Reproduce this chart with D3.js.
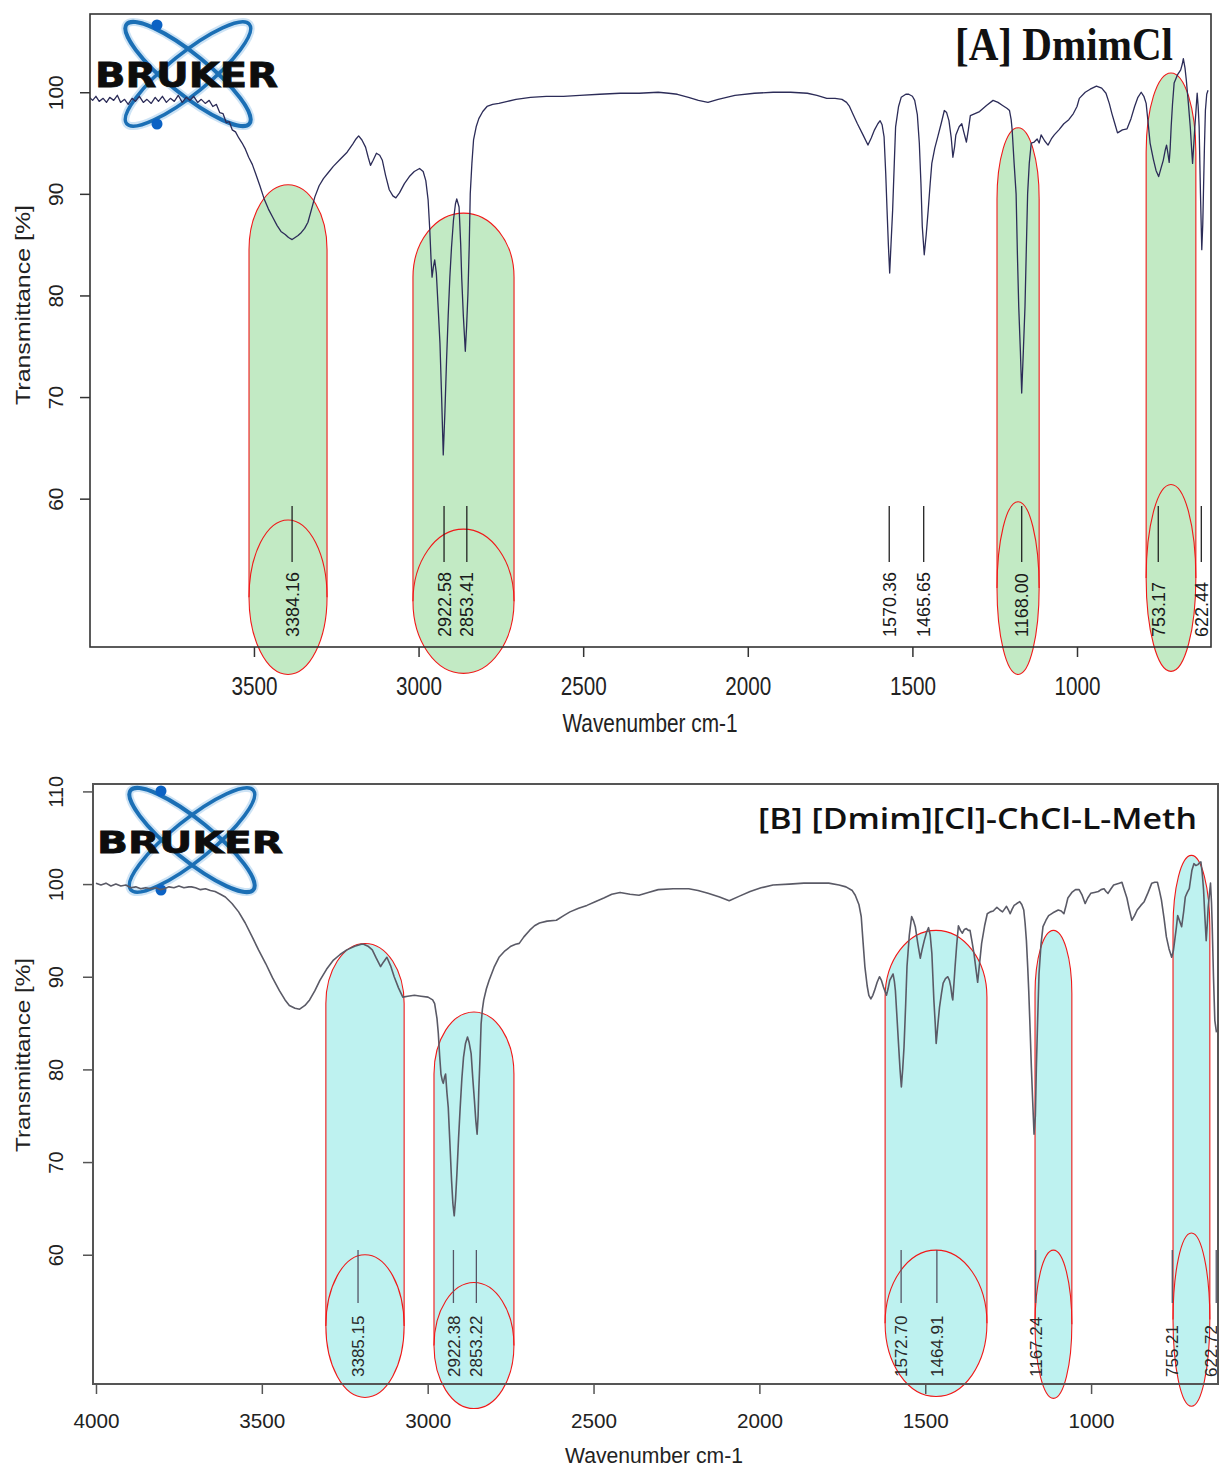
<!DOCTYPE html>
<html><head><meta charset="utf-8">
<script src="https://cdn.jsdelivr.net/npm/d3@7"></script>
<style>body{margin:0;background:#fff}svg{display:block}</style>
</head><body>
<svg id="c" width="1221" height="1467"></svg>
<script>
// ---------- DATA ----------
const specA = [[4000,99.5],[3990,99.2],[3980,99.6],[3970,99.1],[3958,99.4],[3948,99.0],[3938,99.5],[3926,99.2],[3915,99.7],[3905,99.0],[3893,99.3],[3882,98.8],[3870,99.4],[3860,99.1],[3848,99.6],[3836,99.0],[3825,99.3],[3812,98.9],[3800,99.5],[3790,99.1],[3778,99.6],[3766,99.0],[3754,99.4],[3742,99.1],[3730,99.7],[3718,99.0],[3706,99.5],[3694,99.2],[3683,99.6],[3671,99.0],[3660,99.3],[3648,98.9],[3636,99.2],[3625,98.6],[3614,98.8],[3604,98.0],[3594,97.9],[3584,97.0],[3575,97.1],[3566,96.3],[3556,96.1],[3546,95.5],[3536,95.0],[3526,94.4],[3516,93.6],[3505,92.9],[3495,92.0],[3482,90.8],[3469,89.5],[3456,88.5],[3443,87.7],[3430,86.9],[3418,86.3],[3405,86.0],[3395,85.7],[3384,85.5],[3375,85.7],[3366,85.9],[3356,86.2],[3346,86.6],[3336,87.2],[3325,88.5],[3315,89.7],[3302,90.8],[3289,91.5],[3274,92.1],[3259,92.7],[3238,93.4],[3217,94.1],[3200,94.9],[3190,95.4],[3182,95.7],[3172,95.3],[3161,94.6],[3153,93.6],[3146,92.8],[3138,93.3],[3128,94.0],[3118,93.8],[3110,93.3],[3100,91.8],[3089,90.4],[3078,89.8],[3069,89.6],[3058,90.1],[3043,91.0],[3028,91.7],[3013,92.2],[2997,92.5],[2986,92.2],[2978,91.3],[2971,89.4],[2966,86.5],[2962,83.5],[2959,81.8],[2955,82.8],[2951,83.5],[2946,82.2],[2940,78.5],[2935,75.3],[2930,70.0],[2925,64.3],[2920,68.5],[2915,73.6],[2910,78.0],[2905,81.8],[2900,84.7],[2894,87.4],[2888,89.0],[2884,89.5],[2877,88.7],[2872,85.0],[2869,81.8],[2864,78.0],[2858,74.5],[2854,77.0],[2850,80.2],[2846,85.0],[2843,90.0],[2838,93.0],[2833,95.3],[2825,96.6],[2817,97.4],[2805,98.1],[2792,98.6],[2775,98.8],[2756,98.9],[2730,99.1],[2704,99.3],[2660,99.5],[2612,99.6],[2560,99.6],[2510,99.7],[2450,99.8],[2388,99.9],[2330,99.9],[2272,100.0],[2240,99.9],[2214,99.8],[2180,99.5],[2150,99.2],[2121,99.0],[2090,99.3],[2039,99.7],[1980,99.9],[1923,100.0],[1870,100.0],[1819,99.9],[1790,99.7],[1760,99.4],[1735,99.4],[1714,99.3],[1700,99.0],[1691,98.6],[1680,97.8],[1667,96.9],[1650,95.8],[1635,94.8],[1625,95.5],[1615,96.3],[1605,96.9],[1598,97.2],[1592,96.8],[1586,95.6],[1581,92.0],[1577,88.4],[1573,85.0],[1569,82.2],[1565,85.0],[1560,88.4],[1555,93.0],[1551,96.6],[1542,98.6],[1534,99.5],[1520,99.8],[1511,99.8],[1500,99.6],[1493,99.2],[1485,97.8],[1479,95.0],[1474,91.0],[1470,86.8],[1464,84.0],[1458,86.0],[1452,88.4],[1446,91.0],[1441,93.0],[1432,94.5],[1423,95.6],[1412,97.0],[1403,98.2],[1396,98.0],[1389,97.2],[1382,95.5],[1377,93.6],[1372,94.6],[1368,95.8],[1358,96.6],[1350,96.9],[1344,96.1],[1336,95.1],[1330,96.3],[1324,97.7],[1310,97.9],[1296,98.1],[1275,98.7],[1255,99.2],[1240,99.0],[1226,98.7],[1212,98.4],[1205,98.2],[1200,97.3],[1197,96.3],[1191,93.0],[1185,90.0],[1181,84.0],[1177,78.9],[1172,74.5],[1168,70.4],[1163,74.5],[1158,78.9],[1154,84.5],[1150,90.0],[1145,93.0],[1139,95.0],[1130,95.1],[1121,95.4],[1115,95.0],[1109,95.8],[1098,95.2],[1088,94.8],[1078,95.4],[1069,95.8],[1055,96.3],[1040,96.9],[1025,97.3],[1011,97.9],[1000,98.6],[993,99.4],[975,100.0],[960,100.3],[941,100.6],[925,100.4],[912,99.9],[902,98.9],[894,97.9],[885,96.9],[877,96.0],[862,96.3],[848,96.4],[836,97.4],[825,98.6],[815,99.5],[805,100.0],[797,99.6],[790,98.9],[784,97.0],[778,95.0],[768,93.4],[760,92.3],[752,91.7],[745,92.5],[738,93.3],[732,94.3],[728,94.8],[724,94.0],[720,93.1],[717,94.5],[714,96.6],[710,98.8],[705,100.9],[695,101.7],[685,102.2],[680,102.8],[677,103.3],[672,102.4],[668,101.2],[662,99.0],[656,96.6],[652,94.5],[649,93.0],[645,95.0],[642,96.6],[638,98.5],[635,99.9],[632,98.6],[629,96.6],[625,90.0],[621,84.5],[618,87.0],[616,90.0],[613,94.5],[610,98.2],[606,99.8],[602,100.2]];

const specB = [[4000,100.1],[3985,99.9],[3970,100.1],[3955,99.8],[3940,100.0],[3925,99.8],[3910,99.9],[3895,99.6],[3880,99.7],[3865,99.5],[3850,99.6],[3835,99.5],[3820,99.6],[3805,99.4],[3794,99.5],[3780,99.7],[3765,99.6],[3750,99.8],[3735,99.6],[3720,99.7],[3712,99.7],[3700,99.6],[3685,99.4],[3670,99.5],[3655,99.3],[3641,99.2],[3625,98.9],[3610,98.6],[3590,97.9],[3570,97.0],[3550,95.8],[3529,94.3],[3510,92.9],[3488,91.4],[3468,89.9],[3447,88.5],[3430,87.5],[3417,86.9],[3400,86.6],[3386,86.5],[3370,86.9],[3356,87.5],[3340,88.5],[3325,89.6],[3305,90.8],[3284,91.8],[3264,92.4],[3244,92.9],[3220,93.3],[3200,93.5],[3193,93.5],[3180,93.3],[3167,92.9],[3155,92.0],[3142,91.1],[3133,91.6],[3123,92.1],[3112,91.2],[3101,90.0],[3088,88.8],[3075,87.8],[3060,87.9],[3040,88.0],[3020,87.9],[2999,87.8],[2985,87.5],[2979,87.1],[2972,85.5],[2968,83.9],[2964,81.5],[2960,79.5],[2956,78.8],[2953,78.5],[2949,79.2],[2946,79.5],[2942,77.5],[2938,75.9],[2933,72.0],[2928,68.0],[2924,65.5],[2920,64.2],[2916,66.0],[2912,68.7],[2907,72.5],[2902,75.9],[2897,79.0],[2892,81.3],[2886,82.8],[2880,83.5],[2875,82.9],[2869,81.7],[2864,79.0],[2859,76.6],[2855,74.5],[2851,73.0],[2848,75.0],[2846,77.7],[2842,81.5],[2839,84.9],[2835,86.5],[2831,87.5],[2823,88.7],[2815,89.6],[2800,91.0],[2785,92.1],[2767,92.8],[2749,93.3],[2735,93.5],[2724,93.6],[2710,94.3],[2693,95.0],[2678,95.5],[2663,95.8],[2640,96.0],[2612,96.1],[2590,96.6],[2571,97.0],[2545,97.4],[2520,97.7],[2495,98.1],[2469,98.5],[2445,98.9],[2420,99.1],[2390,98.9],[2363,98.8],[2335,99.1],[2305,99.4],[2260,99.5],[2213,99.5],[2185,99.3],[2155,99.0],[2120,98.6],[2091,98.2],[2060,98.7],[2028,99.2],[1995,99.6],[1959,99.9],[1910,100.0],[1866,100.1],[1830,100.1],[1791,100.1],[1760,99.9],[1739,99.7],[1720,99.3],[1711,98.8],[1700,97.8],[1693,96.5],[1688,94.0],[1682,91.1],[1675,89.0],[1670,88.0],[1664,87.6],[1658,88.0],[1653,88.5],[1645,89.4],[1638,90.0],[1632,89.6],[1626,88.9],[1617,88.0],[1612,88.7],[1607,89.6],[1597,90.3],[1593,89.5],[1590,88.5],[1585,85.5],[1580,82.4],[1576,80.0],[1572,78.1],[1568,80.0],[1564,82.4],[1559,87.0],[1555,91.1],[1548,94.5],[1541,96.5],[1535,96.0],[1530,95.4],[1522,93.5],[1515,92.0],[1509,93.0],[1503,93.9],[1496,94.8],[1490,95.3],[1485,94.5],[1480,92.5],[1477,90.0],[1474,87.5],[1470,85.0],[1467,82.8],[1462,84.8],[1457,86.7],[1451,88.2],[1446,89.3],[1439,89.8],[1432,90.0],[1427,89.6],[1423,88.9],[1419,87.8],[1417,87.5],[1413,89.5],[1410,91.1],[1405,93.5],[1400,95.5],[1394,95.0],[1388,94.7],[1382,95.1],[1376,95.2],[1370,95.0],[1365,95.0],[1359,93.8],[1353,92.5],[1347,90.8],[1342,89.4],[1336,91.5],[1330,93.6],[1321,95.5],[1313,96.8],[1304,97.0],[1295,97.1],[1284,97.5],[1275,97.2],[1267,97.0],[1261,97.3],[1255,97.6],[1249,97.2],[1244,96.8],[1238,97.3],[1232,97.7],[1224,97.9],[1215,98.1],[1209,97.8],[1203,97.2],[1199,95.8],[1195,93.9],[1191,91.0],[1188,88.5],[1184,84.5],[1180,80.2],[1176,76.5],[1172,73.0],[1168,75.0],[1165,80.2],[1161,85.5],[1157,90.3],[1151,93.5],[1145,95.4],[1136,96.1],[1128,96.6],[1115,96.9],[1099,97.2],[1090,97.1],[1082,96.8],[1076,97.6],[1070,98.5],[1058,99.1],[1047,99.4],[1036,99.4],[1027,98.8],[1018,97.9],[1010,98.5],[1001,99.0],[990,99.1],[978,99.2],[970,99.4],[961,99.5],[955,99.2],[949,99.0],[940,99.5],[932,99.9],[915,100.1],[907,100.2],[900,99.4],[892,98.5],[885,97.3],[877,96.1],[869,96.6],[861,97.2],[850,97.7],[840,98.1],[828,99.1],[817,100.1],[808,100.2],[800,100.2],[794,99.3],[788,98.3],[780,96.3],[773,94.3],[765,93.0],[757,92.1],[752,92.8],[748,93.9],[743,95.3],[739,96.6],[733,96.0],[727,95.4],[721,97.0],[716,98.6],[710,99.1],[704,99.5],[700,100.5],[696,101.5],[690,102.2],[684,102.0],[678,102.1],[673,102.3],[669,102.4],[665,101.2],[661,99.4],[657,96.5],[653,93.9],[650,95.5],[647,97.5],[643,99.0],[640,100.1],[637,98.0],[635,95.7],[631,90.0],[627,85.3],[622,84.0]];

const xTicksA = [3500, 3000, 2500, 2000, 1500, 1000];
const yTicksA = [60, 70, 80, 90, 100];
const xTicksB = [4000, 3500, 3000, 2500, 2000, 1500, 1000];
const yTicksB = [60, 70, 80, 90, 100, 110];

const peakPosA = [3384.16, 2922.58, 2853.41, 1570.36, 1465.65, 1168.00, 753.17, 622.44];
const peakLabA = ["3384.16", "2922.58", "2853.41", "1570.36", "1465.65", "1168.00", "753.17", "622.44"];
const peakPosB = [3210, 2922.38, 2853.22, 1572.70, 1464.91, 1167.24, 755.21, 622.72];
const peakLabB = ["3385.15", "2922.38", "2853.22", "1572.70", "1464.91", "1167.24", "755.21", "622.72"];

// highlight bands: [left wn, right wn, top T, cap depth T, label-ellipse centre T, ellipse half-height T]
const bandsA = [[3515, 3278, 90.9, 6.4, 50.3, 7.6], [3017, 2710, 88.1, 6.3, 49.9, 7.1], [1243, 1115, 96.5, 7.0, 51.2, 8.5], [790, 639, 101.9, 7.8, 52.2, 9.2]];
const bandsB = [[3307, 3071, 93.6, 6.5, 52.3, 7.7], [2981, 2740, 86.2, 6.7, 50.2, 6.8], [1621, 1314, 95.0, 7.2, 52.6, 7.9], [1169, 1058, 95.0, 6.8, 52.5, 8.0], [753, 642, 103.1, 7.8, 53.0, 9.35]];

const titleA = "[A] DmimCl";
const titleB = "[B] [Dmim][Cl]-ChCl-L-Meth";
const xTitle = "Wavenumber cm-1";
const yTitle = "Transmittance [%]";

// ---------- DRAW ----------
const svg = d3.select("#c");
svg.append("rect").attr("width", 1221).attr("height", 1467).attr("fill", "#fff");
const SANS = "'Liberation Sans', Arial, sans-serif";

function panel(o) {
  const g = svg.append("g");
  const x = d3.scaleLinear().domain(o.xDom).range([o.L, o.R]);
  const y = d3.scaleLinear().domain(o.yDom).range([o.B, o.T]);
  const clipId = "clip" + o.id;
  svg.append("clipPath").attr("id", clipId).append("rect")
    .attr("x", o.L).attr("y", o.T).attr("width", o.R - o.L).attr("height", o.B - o.T);

  // logo
  const lg = g.append("g");
  [-39, 39].forEach(a => {
    lg.append("ellipse").attr("cx", o.logo.cx).attr("cy", o.logo.cy).attr("rx", 79).attr("ry", 20)
      .attr("transform", `rotate(${a},${o.logo.cx},${o.logo.cy})`)
      .attr("fill", "none").attr("stroke", "#9cc8ec").attr("stroke-width", 8).attr("opacity", 0.5);
  });
  [-39, 39].forEach((a, i) => {
    lg.append("ellipse").attr("cx", o.logo.cx).attr("cy", o.logo.cy).attr("rx", 79).attr("ry", 20)
      .attr("transform", `rotate(${a},${o.logo.cx},${o.logo.cy})`)
      .attr("fill", "none").attr("stroke", "#1b6fb5").attr("stroke-width", i ? 4 : 3.5);
  });
  [[-31, -49], [-31, 50]].forEach(d => {
    lg.append("circle").attr("cx", o.logo.cx + d[0]).attr("cy", o.logo.cy + d[1]).attr("r", 5.5).attr("fill", "#0b62c4");
  });
  lg.append("text").attr("x", o.logo.tx).attr("y", o.logo.ty).attr("font-family", "'DejaVu Sans', sans-serif")
    .attr("font-weight", "bold").attr("font-size", o.logo.fs).attr("fill", "#0d0d0d")
    .attr("stroke", "#0d0d0d").attr("stroke-width", 0.8)
    .attr("textLength", o.logo.tw).attr("lengthAdjust", "spacingAndGlyphs").text("BRUKER");

  // bands (fills)
  const bandGeom = o.bands.map(b => {
    const xl = x(b[0]), xr = x(b[1]);
    const rx = (xr - xl) / 2, cx = (xl + xr) / 2;
    const yt = y(b[2]), capRy = y(b[2] - b[3]) - yt;
    const ec = y(b[4]), er = y(b[4] - b[5]) - ec;
    return {xl, xr, rx, cx, yt, capRy, ec, er};
  });
  const bg = g.append("g");
  bandGeom.forEach(d => {
    bg.append("path").attr("d", `M${d.xl},${d.ec}L${d.xl},${d.yt + d.capRy}A${d.rx},${d.capRy} 0 0 1 ${d.xr},${d.yt + d.capRy}L${d.xr},${d.ec}Z`)
      .attr("fill", o.bandFill).attr("stroke", "none");
    bg.append("ellipse").attr("cx", d.cx).attr("cy", d.ec).attr("rx", d.rx).attr("ry", d.er)
      .attr("fill", o.bandFill).attr("stroke", "none");
  });
  bandGeom.forEach(d => {
    bg.append("path").attr("d", `M${d.xl},${d.ec}L${d.xl},${d.yt + d.capRy}A${d.rx},${d.capRy} 0 0 1 ${d.xr},${d.yt + d.capRy}L${d.xr},${d.ec}`)
      .attr("fill", "none").attr("stroke", "#f01818").attr("stroke-width", 1.1);
    bg.append("ellipse").attr("cx", d.cx).attr("cy", d.ec).attr("rx", d.rx).attr("ry", d.er)
      .attr("fill", "none").attr("stroke", "#f01818").attr("stroke-width", 1.1);
  });

  // spectrum
  g.append("path").datum(o.spec).attr("clip-path", `url(#${clipId})`)
    .attr("d", d3.line().x(d => x(d[0])).y(d => y(d[1])))
    .attr("fill", "none").attr("stroke", o.lineColor).attr("stroke-width", o.lineW).attr("stroke-linejoin", "round");

  // peak markers
  o.peaks.forEach((p, i) => {
    const px = x(p);
    const lx = Math.min(px, o.R - 7);
    g.append("line").attr("x1", px).attr("x2", px).attr("y1", o.pk.y1).attr("y2", o.pk.y2)
      .attr("stroke", o.pk.color).attr("stroke-width", 1.3);
    g.append("text").attr("transform", `translate(${lx + 0.36 * o.pk.fs},${o.pk.yb}) rotate(-90)`)
      .attr("font-family", SANS).attr("font-size", o.pk.fs).attr("fill", o.pk.tcolor)
      .attr("text-anchor", "start").text(o.peakLabels[i]);
  });

  // frame
  g.append("rect").attr("x", o.L).attr("y", o.T).attr("width", o.R - o.L).attr("height", o.B - o.T)
    .attr("fill", "none").attr("stroke", o.frameColor).attr("stroke-width", o.frameW);

  // x axis
  const xa = g.append("g").attr("transform", `translate(0,${o.B})`)
    .call(d3.axisBottom(x).tickValues(o.xTicks).tickSize(10).tickFormat(d3.format("d")));
  xa.select(".domain").remove();
  xa.selectAll(".tick line").attr("stroke", o.frameColor).attr("stroke-width", 1.5);
  xa.selectAll(".tick text").attr("y", 0).attr("dy", 0)
    .attr("transform", `translate(0,${o.xLabY - o.B})`)
    .attr("font-family", SANS).attr("font-size", o.xFs).attr("fill", "#222")
    .attr("textLength", 46).attr("lengthAdjust", "spacingAndGlyphs");

  // y axis
  const ya = g.append("g").attr("transform", `translate(${o.L},0)`)
    .call(d3.axisLeft(y).tickValues(o.yTicks).tickSize(10).tickFormat(d3.format("d")));
  ya.select(".domain").remove();
  ya.selectAll(".tick line").attr("stroke", o.frameColor).attr("stroke-width", 1.5);
  ya.selectAll(".tick text").attr("x", 0).attr("dy", 0)
    .attr("transform", `translate(${63 - o.L},0) rotate(-90)`)
    .attr("text-anchor", "middle")
    .attr("font-family", SANS).attr("font-size", o.yFs).attr("fill", "#222");

  // axis titles
  g.append("text").attr("x", o.xt.x).attr("y", o.xt.y).attr("text-anchor", "middle")
    .attr("font-family", SANS).attr("font-size", o.xt.fs).attr("fill", "#222")
    .attr("textLength", o.xt.w).attr("lengthAdjust", "spacingAndGlyphs").text(xTitle);
  g.append("text").attr("transform", `translate(${o.yt.x},${o.yt.y}) rotate(-90)`).attr("text-anchor", "middle")
    .attr("font-family", SANS).attr("font-size", o.yt.fs).attr("fill", "#222")
    .attr("textLength", o.yt.w).attr("lengthAdjust", "spacingAndGlyphs").text(yTitle);

  // title
  g.append("text").attr("x", o.title.x).attr("y", o.title.y).attr("text-anchor", "end")
    .attr("font-family", o.title.font).attr("font-weight", o.title.weight).attr("font-size", o.title.fs)
    .attr("fill", "#111").attr("textLength", o.title.w).attr("lengthAdjust", "spacingAndGlyphs").text(o.title.text);
}

panel({
  id: "A", L: 90, R: 1211, T: 14, B: 647, xDom: [3998, 593], yDom: [45.4, 107.7],
  spec: specA, lineColor: "#2c2c58", lineW: 1.3,
  bands: bandsA, bandFill: "#c2eac4",
  peaks: peakPosA, peakLabels: peakLabA,
  pk: {y1: 506, y2: 562, yb: 637, fs: 18, color: "#222", tcolor: "#1a1a1a"},
  frameColor: "#333", frameW: 1.6,
  xTicks: xTicksA, yTicks: yTicksA, xLabY: 695, xFs: 25, yFs: 21,
  xt: {x: 650, y: 732, fs: 25, w: 175}, yt: {x: 30, y: 305, fs: 21, w: 200},
  title: {text: titleA, x: 1173, y: 60, fs: 47, w: 218, font: "'Liberation Serif', 'Times New Roman', serif", weight: "bold"},
  logo: {cx: 188, cy: 74, tx: 95, ty: 87, fs: 33, tw: 183}
});

panel({
  id: "B", L: 93, R: 1218, T: 784, B: 1384, xDom: [4009, 617.4], yDom: [46.05, 110.8],
  spec: specB, lineColor: "#5a5a66", lineW: 1.6,
  bands: bandsB, bandFill: "#bef2f0",
  peaks: peakPosB, peakLabels: peakLabB,
  pk: {y1: 1250, y2: 1303, yb: 1377, fs: 17, color: "#556", tcolor: "#2a2a2a"},
  frameColor: "#555", frameW: 2,
  xTicks: xTicksB, yTicks: yTicksB, xLabY: 1428, xFs: 21, yFs: 20,
  xt: {x: 654, y: 1463, fs: 22, w: 178}, yt: {x: 30, y: 1055, fs: 21, w: 194},
  title: {text: titleB, x: 1197, y: 829, fs: 28, w: 439, font: "'Open Sans', 'Noto Sans', sans-serif", weight: 600},
  logo: {cx: 192, cy: 840, tx: 97, ty: 853, fs: 31, tw: 186}
});
</script>
</body></html>
